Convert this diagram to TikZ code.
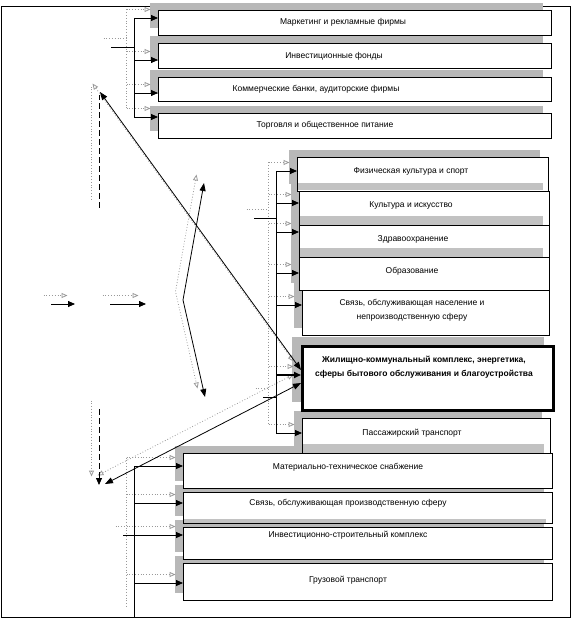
\documentclass[tikz,border=0pt]{standalone}
\usepackage{fontspec}
\setmainfont{Liberation Sans}
\usetikzlibrary{arrows.meta}

\definecolor{stripgray}{gray}{0.76}
\definecolor{shadegray}{gray}{0.72}

\tikzset{
  box/.style={draw, fill=white, line width=0.8pt, anchor=north west, inner sep=0pt},
  boxshade/.style={fill=shadegray},
  lowstrip/.style={fill=stripgray},
  lbl/.style={font=\fontsize{8.5}{14}\selectfont, align=center, inner sep=0pt},
  link/.style={draw=black, line width=0.8pt},
  arr/.style={link, -{Triangle[length=7pt, width=6pt]}},
  darr/.style={link, {Triangle[length=8pt, width=6pt]}-{Triangle[length=8pt, width=6pt]}},
  dlink/.style={link, dash pattern=on 6pt off 3pt},
  dlinkarr/.style={dlink, -{Triangle[length=7pt, width=6pt]}},
  thickarr/.style={arr, line width=1.6pt}
}

% all connectors, drawn twice: grey shadow first, then black
\newcommand{\drawlinks}{%
  % upper group
  \draw[link] (134,18) -- (134,117);
  \draw[link] (111,47) -- (134,47);
  \foreach \n/\y in {mkt/18, fund/60, bank/93, trade/117}
    \draw[arr] (134,\y) -- (\n.west |- 0,\y);
  % middle group
  \draw[link] (276,171) -- (276,433);
  \draw[link] (254,218) -- (276,218);
  \draw[link] (263,397) -- (276,397);
  \foreach \n/\y in {sport/171, cult/203, health/232, edu/273, comm/305, pass/433}
    \draw[arr] (276,\y) -- (\n.west |- 0,\y);
  \draw[thickarr] (276,375) -- (hcs.west |- 0,375);
  % lower group
  \draw[link] (134,466) -- (134,617);
  \draw[link] (123,535) -- (134,535);
  \foreach \n/\y in {supply/466, plink/503, build/535, cargo/583}
    \draw[arr] (134,\y) -- (\n.west |- 0,\y);
  % left part
  \draw[arr] (51,304) -- (75,304);
  \draw[arr] (110,304) -- (146,304);
  \draw[dlink] (99,208) -- (99,95);
  \draw[dlinkarr] (99,409) -- (99,485);
  \draw[darr] (100,92) -- (hcs.west |- 0,370);
  \draw[darr] (105,484) -- (hcs.west |- 0,383);
  \draw[darr] (204,183) -- (183,300) -- (205,397);
}

\begin{document}
\begin{tikzpicture}[x=1pt, y=-1pt]
  \useasboundingbox (0,0) rectangle (571,620);
  \draw[line width=0.8pt] (1,6) rectangle (570,617);

  % shadows up and to the left of the boxes (drawn first, boxes cover them)
  \foreach \xa/\ya/\xb/\yb in {150/3/543/28, 150/36/543/61, 150/70/543/94, 150/106/543/131,
      289/150/540/184, 291/184/541/218, 291/218/541/250, 291/250/541/283, 294/283/541/328,
      292/337/544/402, 294/411/542/446, 175/446/544/481, 175/485/544/516, 175/520/544/552,
      175/556/544/593}
    \fill[boxshade] (\xa,\ya) rectangle (\xb,\yb);

  % boxes
  \node[box, minimum width=393pt, minimum height=25pt] (mkt) at (158,10) {};
  \node[box, minimum width=393pt, minimum height=25pt] (fund) at (158,43) {};
  \node[box, minimum width=393pt, minimum height=24pt] (bank) at (158,77) {};
  \node[box, minimum width=393pt, minimum height=25pt] (trade) at (158,113) {};
  \node[box, minimum width=251pt, minimum height=34pt] (sport) at (297,157) {};
  \node[box, minimum width=250pt, minimum height=34pt] (cult) at (299,191) {};
  \node[box, minimum width=250pt, minimum height=32pt] (health) at (299,225) {};
  \node[box, minimum width=250pt, minimum height=33pt] (edu) at (299,257) {};
  \node[box, minimum width=247pt, minimum height=45pt] (comm) at (302,290) {};
  \node[box, line width=2.5pt, minimum width=251pt, minimum height=64pt] (hcs) at (301,345) {};
  \node[box, minimum width=248pt, minimum height=35pt] (pass) at (302,418) {};
  \node[box, minimum width=369pt, minimum height=35pt] (supply) at (183,453) {};
  \node[box, minimum width=369pt, minimum height=31pt] (plink) at (183,492) {};
  \node[box, minimum width=369pt, minimum height=32pt] (build) at (183,527) {};
  \node[box, minimum width=369pt, minimum height=37pt] (cargo) at (183,563) {};

  % grey strips along the bottom of some boxes
  \fill[lowstrip] (298,183) rectangle (543,190.5);
  \fill[lowstrip] (300,216) rectangle (543,224.5);
  \fill[lowstrip] (300,248) rectangle (543,256.5);
  \fill[lowstrip] (303,444) rectangle (544,452.5);
  \fill[lowstrip] (184,519) rectangle (546,522.5);

  % labels
  \node[lbl] (mkt-t) at (343,22) {Маркетинг и рекламные фирмы};
  \node[lbl] (fund-t) at (334,56) {Инвестиционные фонды};
  \node[lbl] (bank-t) at (316,89) {Коммерческие банки, аудиторские фирмы};
  \node[lbl] (trade-t) at (325,125) {Торговля и общественное питание};
  \node[lbl] (sport-t) at (411,171) {Физическая культура и спорт};
  \node[lbl] (cult-t) at (411,205) {Культура и искусство};
  \node[lbl] (health-t) at (413,239) {Здравоохранение};
  \node[lbl] (edu-t) at (412,271) {Образование};
  \node[lbl] (comm-t) at (412,310) {Связь, обслуживающая население и\\непроизводственную сферу};
  \node[lbl, font=\fontsize{8.5}{14}\selectfont\bfseries] (hcs-t) at (424,367)
    {Жилищно-коммунальный комплекс, энергетика,\\сферы бытового обслуживания и благоустройства};
  \node[lbl] (pass-t) at (412,433) {Пассажирский транспорт};
  \node[lbl] (supply-t) at (348,467) {Материально-техническое снабжение};
  \node[lbl] (plink-t) at (348,503) {Связь, обслуживающая производственную сферу};
  \node[lbl] (build-t) at (348,535) {Инвестиционно-строительный комплекс};
  \node[lbl] (cargo-t) at (348,580) {Грузовой транспорт};

  % grey shadow of the connectors
  \begin{scope}[transform canvas={shift={(-7.5pt,8.5pt)}},
      link/.style={draw=gray!80, dotted, line width=0.8pt},
      arr/.style={link, -{Triangle[open, length=6pt, width=5pt]}},
      darr/.style={link, {Triangle[open, length=6pt, width=5pt]}-{Triangle[open, length=6pt, width=5pt]}},
      dlink/.style={link},
      dlinkarr/.style={arr},
      thickarr/.style={arr}]
    \drawlinks
  \end{scope}
  \drawlinks
\end{tikzpicture}
\end{document}
